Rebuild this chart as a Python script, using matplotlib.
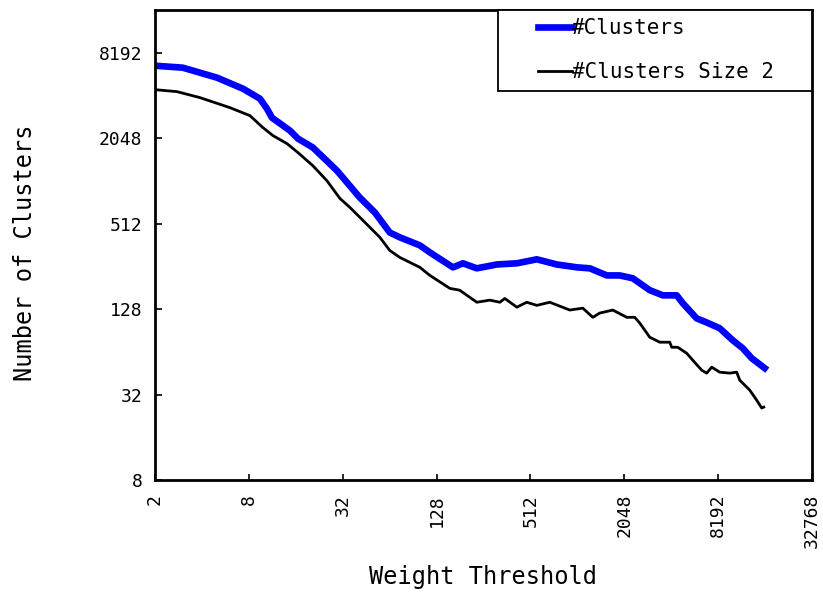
import matplotlib
matplotlib.use("Agg")
import matplotlib.pyplot as plt
from matplotlib.legend_handler import HandlerLine2D
from matplotlib.ticker import FixedLocator, FixedFormatter

# Weight threshold vs number of clusters
thr_all = [2, 3.02, 5.0, 7.33, 9.42, 10.45, 11.25, 14.67, 16.52, 20.6, 29.4,
           41.2, 51.5, 64.2, 74.4, 100, 116, 163, 189, 232, 312, 419, 563,
           756, 1016, 1231, 1582, 1916, 2322, 2984, 3615, 4446, 4858, 5973,
           6923, 8386, 10163, 11783, 13450, 16300]
n_all = [6636, 6425, 5466, 4573, 3889, 3308, 2858, 2317, 2035, 1760, 1210,
         782, 613, 443, 410, 360, 321, 252, 269, 248, 264, 269, 287,
         264, 252, 248, 221, 221, 211, 174, 160, 160, 141, 110,
         103, 93.8, 77.2, 67.8, 57.7, 49.1]

thr_size2 = [2, 2.77, 3.89, 6.05, 8.13, 9.85, 11.42, 14.04, 16.52, 20.6, 25.3,
             30.7, 35.6, 44.4, 55.4, 64.2, 74.4, 100, 116, 156, 180, 232, 281,
             326, 351, 419, 485, 563, 682, 916, 1110, 1287, 1426, 1728, 2125,
             2392, 2575, 2984, 3459, 4009, 4129, 4512, 5153, 5630, 6431, 6923,
             7455, 8386, 9723, 10783, 11272, 13062, 14480, 15600, 16070]
n_size2 = [4500, 4357, 3953, 3361, 2953, 2432, 2136, 1877, 1622, 1310, 1030,
           771, 666, 523, 410, 331, 296, 252, 221, 179, 174, 143, 148,
           143, 152, 132, 143, 136, 143, 126, 130, 112, 120, 126, 112,
           112, 102, 81.1, 74.8, 74.8, 68.9, 68.9, 62.5, 55.9, 47.5, 45.3,
           49.9, 46.0, 45.3, 46.0, 40.4, 34.4, 29.2, 25.7, 26.1]

x_ticks = [2, 8, 32, 128, 512, 2048, 8192, 32768]
y_ticks = [8, 32, 128, 512, 2048, 8192]


class RightHandler(HandlerLine2D):
    '''Legend line drawn only on the right part of the handle box.'''
    def create_artists(self, legend, orig_handle, xdescent, ydescent,
                       width, height, fontsize, trans):
        shift = width * 0.48
        return super().create_artists(legend, orig_handle, xdescent - shift,
                                      ydescent, width - shift, height,
                                      fontsize, trans)


plt.rcParams["font.family"] = "DejaVu Sans Mono"

fig = plt.figure(figsize=(8.23, 5.92), dpi=100)
ax = fig.add_axes([0.1883, 0.1892, 0.7983, 0.7939])

l1, = ax.plot(thr_all, n_all, color="#0000ff", lw=4.8, label="#Clusters")
l2, = ax.plot(thr_size2, n_size2, color="black", lw=2.0,
              label="#Clusters Size 2")

ax.set_xscale("log", base=2)
ax.set_yscale("log", base=2)
ax.set_xlim(2, 32768)
ax.set_ylim(8, 16384)

ax.xaxis.set_major_locator(FixedLocator(x_ticks))
ax.xaxis.set_major_formatter(FixedFormatter([str(v) for v in x_ticks]))
ax.yaxis.set_major_locator(FixedLocator(y_ticks))
ax.yaxis.set_major_formatter(FixedFormatter([str(v) for v in y_ticks]))
ax.minorticks_off()

ax.tick_params(axis="both", direction="in", labelsize=13, width=1.2)
ax.tick_params(axis="y", length=5, pad=9)
ax.tick_params(axis="x", length=4, pad=10, labelrotation=90)
for sp in ax.spines.values():
    sp.set_linewidth(2)

ax.set_xlabel("Weight Threshold", fontsize=17, labelpad=12)
ax.set_ylabel("Number of Clusters", fontsize=17)
ax.yaxis.set_label_coords(-0.18, 0.483)

leg = ax.legend(handler_map={l1: RightHandler(), l2: RightHandler()},
                loc="upper right", bbox_to_anchor=(0.522, 0.0, 0.478, 1.0),
                mode="expand", borderaxespad=0, fancybox=False,
                edgecolor="black", fontsize=15, handlelength=3.16,
                handletextpad=0.0, labelspacing=1.15, borderpad=0.4,
                framealpha=1)
leg.get_frame().set_linewidth(1.3)

fig.savefig("out.png", dpi=100)
